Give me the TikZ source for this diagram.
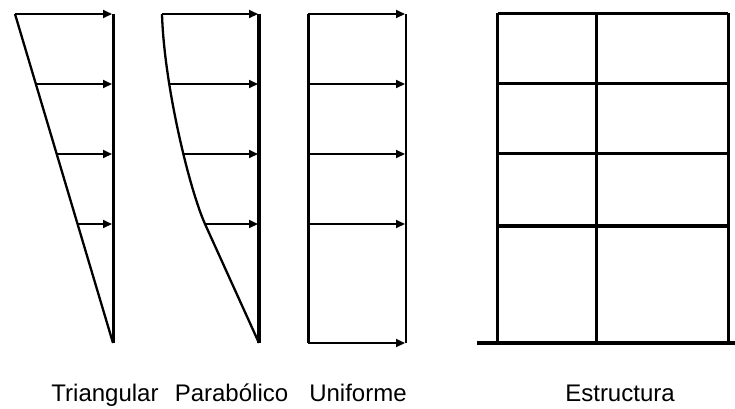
\documentclass[tikz,border=0pt]{standalone}
\usepackage{fontspec}
\setmainfont{Liberation Sans}
\usetikzlibrary{arrows.meta}
\begin{document}
\begin{tikzpicture}[x=1pt,y=-1pt,
  load/.style={line width=2pt,-{Triangle[length=9pt,width=8pt]}},
  outline/.style={line width=2.3pt},
  mast/.style={line width=3pt},
  beam/.style={line width=3pt},
  heavy/.style={line width=4pt},
  caption/.style={font=\fontsize{24}{28}\selectfont,anchor=base,inner sep=0pt}]
\useasboundingbox (0,0) rectangle (735,408);

% ---- Triangular distribution ----
\coordinate (t0) at (15,14);
\coordinate (tb) at (113,343);
\coordinate (tt) at (113,14);
\draw[mast] (tt) -- (tb);
\draw[outline] (t0) -- (tb);
\foreach \y/\n in {14/1,84/2,154/3,224/4}{
  \coordinate (tl\n) at ({15+(\y-14)/329*98},\y);
  \coordinate (tr\n) at (112,\y);
  \draw[load] (tl\n) -- (tr\n);
}

% ---- Parabolic distribution ----
\coordinate (p0) at (162,14);
\coordinate (pk) at (205,224);
\coordinate (pb) at (259,343);
\coordinate (pt) at (259,14);
\draw[line width=4pt] (pt) -- (pb);
\draw[outline,line join=round] (p0) .. controls (164,84) and (189,188) .. (pk) -- (pb);
\coordinate (pl1) at (162,14);
\coordinate (pl2) at (170,84);
\coordinate (pl3) at (184,154);
\coordinate (pl4) at (204,224);
\foreach \y/\n in {14/1,84/2,154/3,224/4}{
  \coordinate (pr\n) at (258,\y);
  \draw[load] (pl\n) -- (pr\n);
}

% ---- Uniform distribution ----
\coordinate (ut) at (308,14);
\coordinate (ub) at (308,343);
\coordinate (vt) at (406,14);
\coordinate (vb) at (406,343);
\draw[mast] (ut) -- (ub);
\draw[outline] (vt) -- (vb);
\foreach \y/\n in {14/1,84/2,154/3,224/4,343/5}{
  \coordinate (ul\n) at (308,\y);
  \coordinate (ur\n) at (405,\y);
  \draw[load] (ul\n) -- (ur\n);
}

% ---- Frame structure ----
\coordinate (ga) at (477,343);
\coordinate (gb) at (735,343);
\draw[heavy] (ga) -- (gb);
\foreach \x/\c in {497.5/a,596/b,728/c}{
  \coordinate (c\c t) at (\x,13);
  \coordinate (c\c b) at (\x,343);
  \draw[beam] (c\c t) -- (c\c b);
}
\foreach \y/\n/\w in {13.5/1/3.5pt,83.5/2/3pt,153.5/3/3pt,225.5/4/4pt}{
  \coordinate (fl\n) at (497.5,\y);
  \coordinate (fr\n) at (728,\y);
  \draw[line width=\w] (fl\n) -- (fr\n);
}

% ---- Captions ----
\node[caption] (capT) at (105,401) {Triangular};
\node[caption] (capP) at (231.5,401) {Parabólico};
\node[caption] (capU) at (358,401) {Uniforme};
\node[caption] (capE) at (620,401) {Estructura};
\end{tikzpicture}
\end{document}
